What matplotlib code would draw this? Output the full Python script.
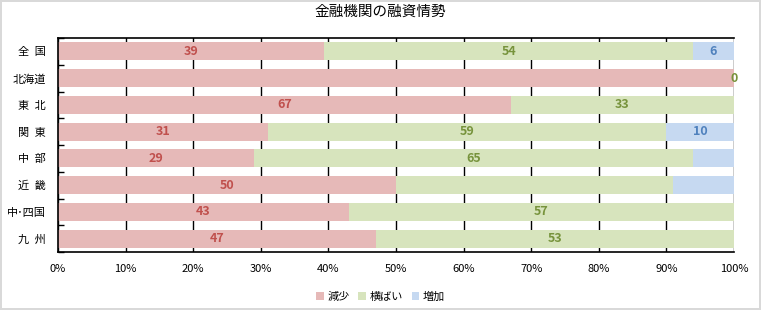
"""100% stacked bar chart: 金融機関の融資情勢."""

import numpy as np
import matplotlib
matplotlib.use("Agg")
import matplotlib.pyplot as plt
from matplotlib.ticker import FixedLocator

plt.rcParams['font.family'] = ['Noto Sans CJK JP', 'DejaVu Sans']

# data
regions = ["全\u2002国", "北海道", "東\u2002北", "関\u2002東", "中\u2002部", "近\u2002畿",
           "中･四国", "九\u2002州"]
decrease = [39, 100, 67, 31, 29, 50, 43, 47]
flat = [54, 0, 33, 59, 65, 41, 57, 53]
increase = [6, 0, 0, 10, 6, 9, 0, 0]
# data labels as shown (None = label hidden in the original)
decrease_labels = ["39", None, "67", "31", "29", "50", "43", "47"]
flat_labels = ["54", "0", "33", "59", "65", None, "57", "53"]
increase_labels = ["6", None, None, "10", None, None, None, None]
series_names = ["減少", "横ばい", "増加"]
x_ticks = [0, 10, 20, 30, 40, 50, 60, 70, 80, 90, 100]

fills = ["#E6B9B8", "#D7E4BD", "#C6D9F1"]
text_colors = ["#C0504D", "#77933C", "#4F81BD"]

data = np.array([decrease, flat, increase], dtype=float)
shares = data / data.sum(axis=0)
labels = [decrease_labels, flat_labels, increase_labels]

fig = plt.figure(figsize=(7.61, 3.10), dpi=100)
fig.patch.set_edgecolor("#D9D9D9")
fig.patch.set_linewidth(1.5)
ax = fig.add_axes([58 / 761, 1 - 252 / 310, 676 / 761, 214 / 310])

y = np.arange(len(regions))
left = np.zeros(len(regions))
for share, fill, tcol, name, labs in zip(shares, fills, text_colors, series_names, labels):
    ax.barh(y, share, left=left, height=0.67, color=fill, label=name, zorder=2)
    for i, lab in enumerate(labs):
        if lab is None:
            continue
        ax.text(left[i] + share[i] / 2, y[i], lab, ha="center", va="center",
                color=tcol, fontsize=9, fontweight="bold", zorder=3)
    left += share

ax.set_xlim(0, 1)
ax.set_ylim(len(regions) - 0.5, -0.5)
ax.set_xticks([t / 100 for t in x_ticks])
ax.set_xticklabels([f"{t}%" for t in x_ticks], fontsize=8)
ax.set_yticks(y)
ax.set_yticklabels(regions, fontsize=8)
ax.yaxis.set_minor_locator(FixedLocator(np.arange(-0.5, len(regions), 1)))
ax.tick_params(axis="y", which="major", length=0, pad=9)
ax.tick_params(axis="y", which="minor", direction="in", length=4, width=1)
ax.tick_params(axis="x", length=0, pad=9)

ax.grid(axis="x", color="black", linewidth=1.0, zorder=1)
ax.set_axisbelow(True)
for side in ["left", "bottom", "top"]:
    ax.spines[side].set_linewidth(1.2)
ax.spines["right"].set_visible(False)

fig.text(0.5, 1 - 12 / 310, "金融機関の融資情勢", ha="center", va="center", fontsize=10.5)
fig.legend(loc="center", bbox_to_anchor=(0.5, 1 - 297 / 310), ncol=3, frameon=False,
           fontsize=8, handlelength=0.7, handleheight=0.7, handletextpad=0.3,
           columnspacing=0.8)

fig.savefig("out.png", dpi=100)
